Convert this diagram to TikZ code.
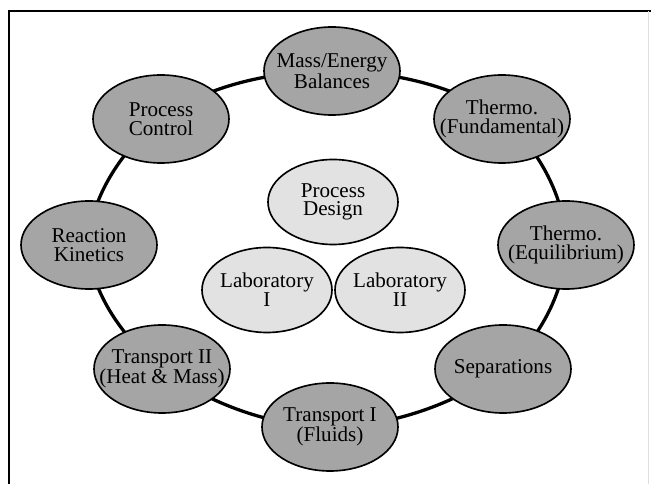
\documentclass[tikz,border=0pt]{standalone}
\usepackage{fontspec}
\setmainfont{Liberation Serif}
\usetikzlibrary{shapes.geometric,backgrounds}

\definecolor{coursegray}{RGB}{165,165,165}
\definecolor{coregray}{RGB}{226,226,226}

\tikzset{
    course/.style={
        draw,
        ellipse,
        line width=1.4pt,
        fill=coursegray,
        inner xsep=-0.6cm,
        inner ysep=0pt,
        minimum width=4.08cm,
        minimum height=2.64cm,
        align=center,
        font=\fontsize{18}{16}\selectfont
    },
    core/.style={
        course,
        fill=coregray,
        minimum width=3.9cm,
        minimum height=2.55cm
    },
    link/.style={
        line width=2.8pt,
        looseness=0.82
    }
}

\begin{document}
\begin{tikzpicture}
\useasboundingbox (0,0) rectangle (19.53,14.52);

    % Rahmen
    \draw[line width=1.6pt] (0.27,0) -- (0.27,14.19) -- (19.53,14.19);
    \draw[gray!25,line width=0.6pt] (19.44,14.19) -- (19.44,0);

    % Kurse im Ring
    \path
        node[course] at ( 9.96,12.39) (mass) {Mass/Energy\\Balances}
        node[course] at (15.06,10.95) (thf)  {Thermo.\\(Fundamental)}
        node[course] at (16.98, 7.17) (the)  {Thermo.\\(Equilibrium)}
        node[course] at (15.09, 3.45) (sep)  {Separations}
        node[course] at ( 9.90, 1.71) (tr1)  {Transport I\\(Fluids)}
        node[course] at ( 4.86, 3.45) (tr2)  {Transport II\\(Heat \& Mass)}
        node[course] at ( 2.67, 7.17) (kin)  {Reaction\\Kinetics}
        node[course] at ( 4.83,10.95) (ctl)  {Process\\Control};

    % Kern in der Mitte
    \path
        node[core] at ( 9.99, 8.46) (design) {Process\\Design}
        node[core] at ( 8.01, 5.82) (lab1)   {Laboratory\\I}
        node[core] at (12.00, 5.82) (lab2)   {Laboratory\\II};

    % Ring hinter den Kursen
    \begin{pgfonlayer}{background}
    \path[link]
        (mass.center) edge[out=0,in=143]    (thf.center)
        (thf.center)  edge[out=-37,in=90]   (the.center)
        (the.center)  edge[out=-90,in=37]   (sep.center)
        (sep.center)  edge[out=-143,in=0]   (tr1.center)
        (tr1.center)  edge[out=180,in=-37]  (tr2.center)
        (tr2.center)  edge[out=143,in=-90]  (kin.center)
        (kin.center)  edge[out=90,in=-143]  (ctl.center)
        (ctl.center)  edge[out=37,in=180]   (mass.center);
    \end{pgfonlayer}
\end{tikzpicture}
\end{document}
